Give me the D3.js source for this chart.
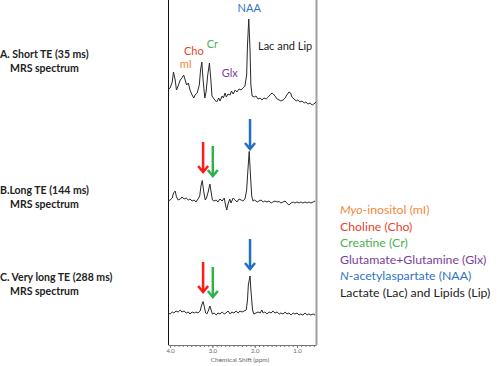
<!DOCTYPE html>
<html>
<head>
<meta charset="utf-8">
<script src="https://cdn.jsdelivr.net/npm/d3@7"></script>
<style>
  body { margin: 0; background: #fff; }
  svg { display: block; font-family: Lato, "Open Sans", sans-serif; }
</style>
</head>
<body>
<div id="chart"></div>
<script>
// spectra: [chemical shift (ppm), intensity (a.u.)]
const shortTE = [
  [4.05, 10], [4.00, 12], [3.95, 18], [3.92, 28], [3.88, 20], [3.85, 10], [3.81, 14], [3.76, 20],
  [3.72, 22], [3.68, 25], [3.65, 21], [3.61, 15], [3.57, 17], [3.53, 10], [3.48, 5], [3.44, 2],
  [3.41, 5], [3.36, 7], [3.31, 15], [3.28, 30], [3.25, 38], [3.22, 20], [3.18, 2], [3.15, 8],
  [3.11, 25], [3.07, 37], [3.04, 22], [3.01, 4], [2.96, 1], [2.90, -2], [2.85, 2], [2.82, -1],
  [2.77, 4], [2.74, 2], [2.70, 7], [2.67, 3], [2.63, 6], [2.58, 5], [2.55, 9], [2.51, 6],
  [2.46, 10], [2.42, 8], [2.37, 11], [2.32, 10], [2.28, 12], [2.23, 14], [2.19, 25], [2.17, 55],
  [2.14, 81], [2.11, 50], [2.09, 15], [2.06, 4], [2.01, 3], [1.97, 4], [1.92, 1], [1.87, 2],
  [1.83, 0], [1.78, 2], [1.73, 1], [1.68, 3], [1.64, 5], [1.59, 7], [1.56, 6], [1.52, 4],
  [1.47, 1], [1.42, 0], [1.38, -1], [1.33, 0], [1.28, 2], [1.24, 5], [1.19, 8], [1.15, 7],
  [1.12, 3], [1.07, 1], [1.02, -1], [0.98, 0], [0.93, -2], [0.88, -1], [0.83, -3], [0.79, -2],
  [0.74, -4], [0.69, -3], [0.64, -5], [0.60, -4], [0.55, -2]
];
const longTE = [
  [4.05, 0], [4.00, 1], [3.95, 3], [3.92, 8], [3.88, 10], [3.85, 4], [3.81, 1], [3.76, 2],
  [3.72, 4], [3.67, 2], [3.62, 3], [3.57, 1], [3.53, 2], [3.48, 0], [3.43, 1], [3.39, -1],
  [3.34, 2], [3.30, 5], [3.27, 15], [3.24, 20.5], [3.21, 11], [3.17, 1], [3.14, 3], [3.10, 9],
  [3.06, 17], [3.03, 9], [3.00, 1], [2.96, 0], [2.91, 1], [2.87, -1], [2.82, 2], [2.77, 0],
  [2.72, 3], [2.69, -4], [2.66, -9], [2.63, -3], [2.59, 2], [2.56, -2], [2.51, 3], [2.46, 1],
  [2.42, -1], [2.37, 2], [2.32, 1], [2.28, 0], [2.23, 2], [2.19, 11], [2.16, 31], [2.13, 49.5],
  [2.10, 26], [2.07, 5], [2.04, 0], [2.00, 1], [1.94, -1], [1.90, 0], [1.85, 1], [1.80, -1],
  [1.76, 0], [1.71, -1], [1.66, 0], [1.61, -2], [1.57, -1], [1.52, 0], [1.47, -1], [1.42, -0.5],
  [1.38, -2], [1.33, -1], [1.28, 0], [1.24, -2], [1.19, -4], [1.14, -2], [1.09, -1], [1.05, -2],
  [1.00, -1], [0.95, -2], [0.91, -1], [0.86, -2], [0.81, -1], [0.76, -2], [0.72, -1], [0.67, -2],
  [0.62, -1], [0.57, 0]
];
const veryLongTE = [
  [4.05, 0], [4.00, -1], [3.95, 1], [3.91, 0], [3.86, 2], [3.81, 1], [3.76, 3], [3.72, 1],
  [3.67, 2], [3.62, 0], [3.57, 1], [3.53, -1], [3.48, 1], [3.43, 0], [3.39, 1], [3.34, 0],
  [3.29, 2], [3.26, 7], [3.22, 11.5], [3.19, 6], [3.16, 0], [3.13, -1], [3.09, 3], [3.06, 7],
  [3.03, 3], [3.00, -1], [2.96, 0], [2.91, -2], [2.87, 0], [2.82, -1], [2.77, 1], [2.72, -1],
  [2.68, 0], [2.63, 2], [2.58, -1], [2.54, 1], [2.49, 0], [2.44, 2], [2.39, 0], [2.35, 2],
  [2.30, 1], [2.25, 2], [2.20, 3], [2.17, 13], [2.15, 28], [2.11, 37], [2.09, 23], [2.05, 3],
  [2.02, -1], [1.97, 0], [1.92, 1], [1.87, 0], [1.83, 3], [1.80, 0], [1.76, 1], [1.71, -1],
  [1.66, 1], [1.61, 0], [1.57, 2], [1.52, 0], [1.47, 1], [1.42, -1], [1.38, 0], [1.33, -1],
  [1.28, 1], [1.24, -1], [1.19, 0], [1.14, -2], [1.09, 0], [1.05, -1], [1.00, 0], [0.95, -2],
  [0.91, -1], [0.86, -2], [0.81, 0], [0.76, -2], [0.72, -1], [0.67, -2], [0.62, -1], [0.57, -2]
];

// panel titles
const panelTitles = ["A. Short TE (35 ms)", "B.Long TE (144 ms)", "C. Very long TE (288 ms)"];
const panelSubtitle = "MRS spectrum";

// peak labels on spectrum A: [text, ppm, intensity, colour]
const peakLabels = [
  ["mI", 3.63, 32, "#f08a3c"],
  ["Cho", 3.44, 45, "#e8422e"],
  ["Cr", 3.00, 52, "#4cb050"],
  ["Glx", 2.59, 23, "#7a3e9d"],
  ["NAA", 2.13, 88, "#2e75c0"],
  ["Lac and Lip", 1.28, 50, "#222"]
];

// arrows on B and C: [ppm, tip intensity, colour]
const arrowPpm = [3.22, 2.99, 2.11];
const arrowColors = ["#ff1a1a", "#2db34a", "#1f6fc5"];
const arrowTipsLong = [28, 24, 51];
const arrowTipsVeryLong = [20, 15, 43];

// legend
const legendItems = [
  ["Myo", "-inositol (mI)"],
  ["", "Choline (Cho)"],
  ["", "Creatine (Cr)"],
  ["", "Glutamate+Glutamine (Glx)"],
  ["N", "-acetylaspartate  (NAA)"],
  ["", "Lactate (Lac) and Lipids (Lip)"]
];
const legendColors = ["#f08a3c", "#e8422e", "#4cb050", "#7a3e9d", "#2e75c0", "#222"];

const majorTicks = [4.0, 3.0, 2.0, 1.0];
const minorTicks = d3.range(40, 5, -1).map(d => d / 10);

const drawMRS = () => {
  const width = 500;
  const height = 366;

  const svg = d3.select("#chart")
    .append("svg")
    .attr("width", width)
    .attr("height", height);

  const xScale = d3.scaleLinear()
    .domain([4.05, 0.55])
    .range([168, 316]);

  const panels = [
    { data: shortTE, baseline: 100, titleY: 58, arrows: null },
    { data: longTE, baseline: 201, titleY: 194, arrows: arrowTipsLong },
    { data: veryLongTE, baseline: 313, titleY: 281, arrows: arrowTipsVeryLong }
  ];

  // frame
  svg.append("line")
    .attr("x1", 168.5).attr("x2", 168.5)
    .attr("y1", 0).attr("y2", 345)
    .attr("stroke", "#111").attr("stroke-width", 1);
  svg.append("line")
    .attr("x1", 316.5).attr("x2", 316.5)
    .attr("y1", 0).attr("y2", 345)
    .attr("stroke", "#a0a0a0").attr("stroke-width", 2);

  panels.forEach((p, i) => {
    const yScale = d3.scaleLinear()
      .domain([0, 100])
      .range([p.baseline, p.baseline - 100]);

    const line = d3.line()
      .x(d => xScale(d[0]))
      .y(d => yScale(d[1]));

    svg.append("path")
      .datum(p.data)
      .attr("d", line)
      .attr("fill", "none")
      .attr("stroke", "#2a2a2a")
      .attr("stroke-width", 1)
      .attr("stroke-linejoin", "round");

    // left labels
    svg.append("text")
      .text(panelTitles[i])
      .attr("x", 0)
      .attr("y", p.titleY)
      .attr("font-size", 10.5)
      .attr("font-weight", "bold")
      .attr("fill", "#222");
    svg.append("text")
      .text(panelSubtitle)
      .attr("x", 10)
      .attr("y", p.titleY + 14)
      .attr("font-size", 10.5)
      .attr("font-weight", "bold")
      .attr("fill", "#222");

    if (p.arrows) {
      p.arrows.forEach((tip, j) => {
        const ax = xScale(arrowPpm[j]);
        const ay = yScale(tip);
        const g = svg.append("g")
          .attr("stroke", arrowColors[j])
          .attr("stroke-width", 2.5)
          .attr("fill", "none");
        g.append("line")
          .attr("x1", ax).attr("x2", ax)
          .attr("y1", ay - 31).attr("y2", ay - 1);
        g.append("path")
          .attr("d", `M${ax - 5},${ay - 7} L${ax},${ay - 1} L${ax + 5},${ay - 7}`)
          .attr("stroke-linejoin", "miter");
      });
    } else {
      peakLabels.forEach(l => {
        svg.append("text")
          .text(l[0])
          .attr("x", xScale(l[1]))
          .attr("y", yScale(l[2]))
          .attr("text-anchor", "middle")
          .attr("font-size", 11)
          .attr("fill", l[3]);
      });
    }
  });

  // x axis
  const minorAxis = d3.axisBottom(xScale)
    .tickValues(minorTicks)
    .tickSize(2)
    .tickSizeOuter(0)
    .tickFormat("");
  svg.append("g")
    .attr("transform", "translate(0, 345)")
    .call(minorAxis)
    .call(g => g.selectAll("line, path").attr("stroke", "#777"));

  const majorAxis = d3.axisBottom(xScale)
    .tickValues(majorTicks)
    .tickSize(3)
    .tickSizeOuter(0)
    .tickPadding(1)
    .tickFormat(d3.format(".1f"));
  svg.append("g")
    .attr("transform", "translate(0, 345)")
    .call(majorAxis)
    .call(g => g.select(".domain").remove())
    .call(g => g.selectAll("line").attr("stroke", "#777"))
    .call(g => g.selectAll("text")
      .attr("font-family", "Lato, sans-serif")
      .attr("font-size", 6)
      .attr("fill", "#666"));

  svg.append("text")
    .text("Chemical Shift (ppm)")
    .attr("x", 240)
    .attr("y", 362)
    .attr("text-anchor", "middle")
    .attr("font-size", 6.5)
    .attr("fill", "#666");

  // legend
  const legend = svg.append("g")
    .attr("font-size", 12.3);
  legendItems.forEach((item, i) => {
    const t = legend.append("text")
      .attr("x", 340)
      .attr("y", 214 + i * 16.6)
      .attr("fill", legendColors[i]);
    if (item[0]) {
      t.append("tspan").attr("font-style", "italic").text(item[0]);
    }
    t.append("tspan").text(item[1]);
  });
};

drawMRS();
</script>
</body>
</html>
